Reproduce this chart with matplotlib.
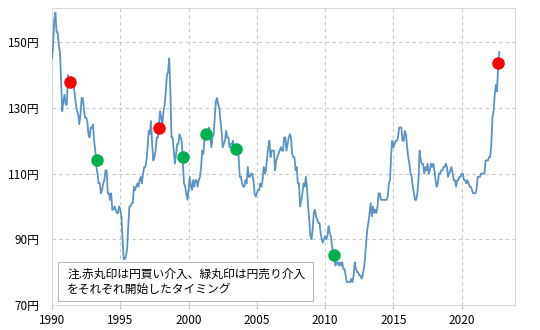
import matplotlib.pyplot as plt
from matplotlib.patches import Rectangle
import numpy as np

plt.rcParams['font.family'] = ['Noto Sans CJK JP', 'DejaVu Sans']

# monthly USD/JPY (approx.), Jan 1990 - Oct 2022
usdjpy = [
    145, 149, 157, 159, 153, 153, 149, 147, 138, 129, 132, 134,
    131, 131, 140, 137, 139, 139, 137, 137, 134, 131, 129, 128,
    125, 128, 133, 133, 130, 127, 127, 126, 122, 121, 124, 124,
    125, 120, 117, 112, 110, 107, 107, 104, 105, 107, 108, 111,
    111, 104, 104, 102, 104, 99, 99, 100, 99, 98, 98, 100,
    99, 97, 90, 84, 84, 85, 87, 94, 100, 100, 101, 101,
    106, 105, 106, 107, 106, 108, 109, 107, 110, 112, 112, 114,
    118, 123, 122, 126, 119, 114, 115, 117, 121, 121, 125, 129,
    127, 125, 129, 131, 135, 140, 141, 145, 135, 121, 121, 117,
    113, 116, 119, 119, 122, 121, 120, 113, 107, 106, 104, 102,
    105, 109, 106, 105, 108, 106, 108, 108, 106, 108, 109, 112,
    117, 116, 121, 123, 122, 122, 124, 121, 118, 121, 122, 127,
    132, 133, 131, 130, 126, 123, 118, 119, 120, 123, 121, 121,
    118, 119, 119, 120, 117, 118, 118, 118, 115, 109, 109, 107,
    106, 106, 108, 107, 112, 109, 109, 110, 110, 108, 104, 103,
    104, 105, 105, 107, 106, 108, 112, 110, 111, 115, 118, 120,
    115, 117, 117, 117, 111, 114, 115, 116, 117, 118, 117, 117,
    121, 121, 117, 119, 121, 122, 121, 116, 115, 115, 111, 112,
    107, 107, 100, 102, 104, 107, 106, 109, 106, 100, 96, 91,
    90, 93, 98, 99, 97, 96, 95, 95, 92, 90, 89, 90,
    91, 90, 91, 94, 92, 91, 88, 86, 85, 82, 83, 83,
    82, 83, 82, 83, 81, 81, 79, 77, 77, 77, 77, 78,
    77, 79, 83, 81, 80, 80, 79, 79, 78, 79, 81, 84,
    89, 93, 95, 98, 101, 97, 100, 98, 99, 98, 100, 104,
    104, 102, 102, 102, 102, 102, 102, 103, 107, 108, 116, 120,
    118, 119, 120, 120, 121, 124, 124, 124, 120, 120, 123, 122,
    118, 115, 113, 110, 109, 106, 104, 102, 102, 104, 108, 117,
    114, 113, 113, 110, 112, 111, 113, 110, 111, 113, 112, 113,
    111, 108, 106, 107, 110, 110, 111, 111, 112, 112, 113, 112,
    109, 110, 111, 112, 110, 108, 108, 106, 108, 108, 109, 109,
    110, 110, 108, 108, 107, 108, 107, 106, 106, 105, 104, 104,
    104, 105, 109, 109, 109, 110, 110, 110, 110, 114, 114, 114,
    115, 115, 119, 127, 129, 134, 137, 135, 143, 147,
]
dates = 1990 + np.arange(len(usdjpy)) / 12

# intervention start points
buy_x = [1991.3, 1997.8, 2022.65]
buy_y = [137.8, 124.0, 143.6]
sell_x = [1993.3, 1999.6, 2001.3, 2003.5, 2010.65]
sell_y = [114.0, 115.0, 122.2, 117.6, 85.3]

yticks = [70, 90, 110, 130, 150]
xticks = [1990, 1995, 2000, 2005, 2010, 2015, 2020]

fig = plt.figure(figsize=(5.4, 3.3), dpi=100)
ax = fig.add_axes([52 / 540, 25 / 330, 463 / 540, 297 / 330])

ax.plot(dates, usdjpy, color='#5b93c7', lw=1.3, zorder=3)
ax.plot(buy_x, buy_y, 'o', color='#ff0000', ms=8, zorder=4)
ax.plot(sell_x, sell_y, 'o', color='#00b050', ms=8, zorder=4)

ax.set_xlim(1990, 2023.9)
ax.set_ylim(70, 160.4)
ax.set_xticks(xticks)
ax.set_yticks(yticks)
ax.set_yticklabels([f'{v}円' for v in yticks])
ax.grid(True, color='#c8c8c8', linestyle=(0, (3, 3)), lw=0.8)
ax.tick_params(labelsize=8.5, color='#bfbfbf', length=3)
ax.tick_params(axis='y', length=0, pad=9)
for s in ax.spines.values():
    s.set_color('#d9d9d9')

# note box
ax.add_patch(Rectangle((0.013, 0.014), 0.551, 0.13, transform=ax.transAxes,
                       fc='white', ec='#b8b8b8', lw=0.8, zorder=5))
ax.text(0.033, 0.078, '注.赤丸印は円買い介入、緑丸印は円売り介入\nをそれぞれ開始したタイミング',
        transform=ax.transAxes, fontsize=8.5, va='center', ha='left',
        linespacing=1.2, zorder=6)

fig.savefig('out.png', dpi=100, facecolor='white')
